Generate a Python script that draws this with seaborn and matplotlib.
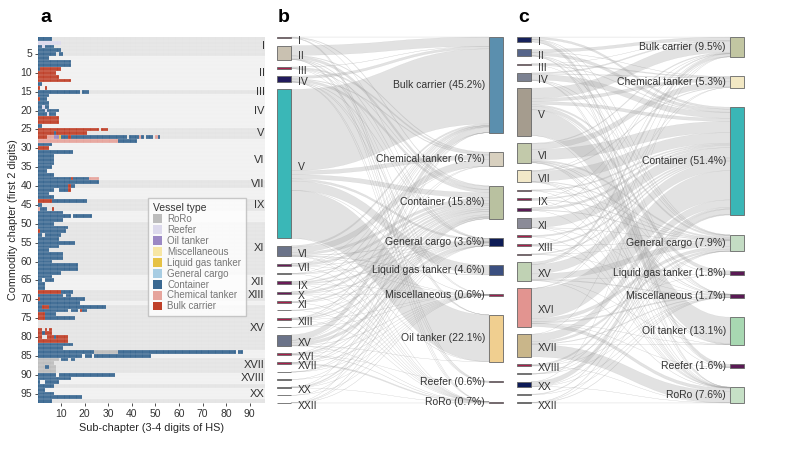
import numpy as np
import matplotlib
matplotlib.use('Agg')
import matplotlib.pyplot as plt
import seaborn as sns
from matplotlib.colors import ListedColormap
from matplotlib.patches import Patch, PathPatch, Rectangle
from matplotlib.path import Path

# ---------------- panel a data ----------------
vessel_types = ['RoRo', 'Reefer', 'Oil tanker', 'Miscellaneous', 'Liquid gas tanker',
                'General cargo', 'Container', 'Chemical tanker', 'Bulk carrier']
vessel_colors = ['#bdbdbd', '#dcd9ec', '#9b88c4', '#f7e6a4', '#e6c246',
                 '#a8cde3', '#3a6891', '#e6a49c', '#bf4029']
type_code = {'R': 0, 'F': 1, 'O': 2, 'M': 3, 'L': 4, 'G': 5, 'C': 6, 'H': 7, 'B': 8}

# one run-length string per HS chapter (1..97): letter = vessel type, '.' = empty
chapter_rows = [
    "C6", "F10", "C2 F1 C4", "C10", "C8 .1 C2",                      # 1-5
    "C5", "C14", "C14", "C1 B9", "B8",                               # 6-10
    "B9", "B14", "C2", "B1 .2 B1", "C18 .1 C3",                      # 11-15
    "C5", "B1 C3", "C5", "C2 F1 C2", "C3 F1 C5",                     # 16-20
    "C4 F1 C3", "B9", "B9", "C2", "B26 .1 B3",                       # 21-25
    "B7 C1 B13",
    "B4 H3 O2 L1 C3 B1 C24 .1 C4 H1 C1 .1 C3 .1 H1 C1",
    "H34 C8", "C6", "B5",                                            # 26-30
    "C15", "C7", "C7", "C7", "C6",                                   # 31-35
    "C4", "C7", "C14 B1 C7 H4", "C26", "C13 B1 C2",                  # 36-40
    "C7 .2 C4 B1", "C5", "C7", "B6 C15", "C2",                       # 41-45
    "H1 C3 .2 B1", "C11", "C14 .1 C8", "C11", "C7",                  # 46-50
    "C13", "B1 C11", "C2 .1 C7", "C9", "C16",                        # 51-55
    "C9", "C5", "C11", "C11", "C6",                                  # 56-60
    "C17", "C17", "C10", "C6", "C2 .1 C4",                           # 61-65
    "C3", "C3", "B10 C5", "C11 .1 C2", "B1 C19",                     # 66-70
    "C18", "C2 B3 C24", "C13 .1 C3 .1 B1 C2", "B3 C5", "B3 C13",     # 71-75
    "", "", "B2 .1 B1 .1 B1", "B2 C1 B3", "B2 .2 B3 C1 B5",          # 76-80
    "B13", "C15", "C11", "C24 R10 C50 .1 C2", "C19 .1 C3 .1 C24",    # 81-85
    "R9 .1 C3 .1 C2", "R7", "R3 C2 R3", "R8", "C8 .1 C24",           # 86-90
    "C14", "C1 .2 C6", "C7", "C3", "C7",                             # 91-95
    "C19", "C6",                                                     # 96-97
]

section_names = ['I', 'II', 'III', 'IV', 'V', 'VI', 'VII', 'VIII', 'IX', 'X', 'XI',
                 'XII', 'XIII', 'XIV', 'XV', 'XVI', 'XVII', 'XVIII', 'XIX', 'XX', 'XXI']
section_first = [1, 6, 15, 16, 25, 28, 39, 41, 44, 47, 50, 64, 68, 71, 72, 84, 86, 90, 93, 94, 97]
section_last = [5, 14, 15, 24, 27, 38, 40, 43, 46, 49, 63, 67, 70, 71, 83, 85, 89, 92, 93, 96, 97]
a_shown = ['I', 'II', 'III', 'IV', 'V', 'VI', 'VII', 'IX', 'XI', 'XII', 'XIII',
           'XV', 'XVII', 'XVIII', 'XX']

# ---------------- panels b / c data ----------------
sankey_sections = ['I', 'II', 'III', 'IV', 'V', 'VI', 'VII', 'VIII', 'IX', 'X', 'XI',
                   'XII', 'XIII', 'XIV', 'XV', 'XVI', 'XVII', 'XVIII', 'XIX', 'XX', 'XXI', 'XXII']
sankey_types = ['Bulk carrier', 'Chemical tanker', 'Container', 'General cargo',
                'Liquid gas tanker', 'Miscellaneous', 'Oil tanker', 'Reefer', 'RoRo']

b_left_share = [0.6, 6.6, 0.9, 2.8, 70.0, 5.0, 1.2, 0.3, 1.4, 1.2, 0.6,
                0.2, 1.0, 0.1, 5.3, 0.9, 0.9, 0.2, 0.05, 0.5, 0.05, 0.2]
b_right_share = [45.2, 6.7, 15.8, 3.6, 4.6, 0.6, 22.1, 0.6, 0.7]
b_flows = [
    [0.02, 0, 0.25, 0.02, 0, 0, 0, 0.3, 0.01],
    [4.6, 0.3, 1.2, 0.25, 0, 0.02, 0.02, 0.2, 0.01],
    [0.1, 0.65, 0.12, 0.02, 0, 0, 0.02, 0, 0],
    [1.2, 0.3, 1.1, 0.15, 0, 0.02, 0.02, 0.05, 0.01],
    [37.5, 1.8, 1.9, 1.0, 4.3, 0.05, 22.0, 0, 0.02],
    [0.8, 2.7, 1.1, 0.25, 0.2, 0.02, 0.05, 0, 0.02],
    [0.02, 0.05, 1.0, 0.1, 0, 0.02, 0, 0, 0.02],
    [0.02, 0, 0.25, 0.02, 0, 0, 0, 0, 0.01],
    [0.35, 0, 0.6, 0.45, 0, 0.02, 0, 0, 0.01],
    [0.2, 0, 0.8, 0.2, 0, 0.02, 0, 0, 0.01],
    [0.02, 0, 0.55, 0.03, 0, 0, 0, 0, 0.01],
    [0, 0, 0.18, 0.01, 0, 0, 0, 0, 0.01],
    [0.3, 0.01, 0.6, 0.08, 0, 0.01, 0, 0, 0.01],
    [0, 0, 0.08, 0.01, 0, 0.01, 0, 0, 0],
    [2.6, 0.02, 1.2, 1.4, 0, 0.08, 0.02, 0, 0.03],
    [0.05, 0, 0.6, 0.1, 0, 0.05, 0, 0.01, 0.1],
    [0.02, 0, 0.2, 0.05, 0, 0.05, 0, 0, 0.55],
    [0, 0, 0.18, 0.01, 0, 0.01, 0, 0, 0],
    [0, 0, 0.04, 0, 0, 0.01, 0, 0, 0],
    [0.01, 0, 0.45, 0.03, 0, 0.01, 0, 0, 0.01],
    [0, 0, 0.04, 0, 0, 0.01, 0, 0, 0],
    [0.01, 0, 0.1, 0.02, 0, 0.08, 0, 0, 0.01],
]
b_left_colors = ['#a8204c', '#c9c1b1', '#a8204c', '#211a5c', '#3ab7b7', '#6b7389', '#6a1b58',
                 '#8a8a8a', '#6a1b58', '#6a1b58', '#a8204c', '#8a8a8a', '#a8204c', '#8a8a8a',
                 '#6b7389', '#a8204c', '#a8204c', '#8a8a8a', '#8a8a8a', '#8a8a8a', '#8a8a8a', '#8a8a8a']
b_right_colors = ['#5b8fae', '#d8d0bf', '#b9c1a0', '#0e1c56', '#3b4f80',
                  '#9a2050', '#f0cf90', '#9a2050', '#9a2050']
b_shown = ['I', 'II', 'III', 'IV', 'V', 'VI', 'VII', 'IX', 'X', 'XI', 'XIII',
           'XV', 'XVI', 'XVII', 'XX', 'XXII']

c_left_share = [2.4, 3.3, 0.7, 3.8, 23.0, 9.6, 5.7, 0.6, 0.8, 1.4, 4.8,
                0.7, 0.8, 0.5, 9.0, 18.6, 11.0, 0.8, 0.3, 2.4, 0.3, 0.4]
c_right_share = [9.5, 5.3, 51.4, 7.9, 1.8, 1.7, 13.1, 1.6, 7.6]
c_flows = [
    [0.05, 0, 1.0, 0.1, 0, 0.02, 0, 1.2, 0.03],
    [1.4, 0.1, 1.4, 0.2, 0, 0.03, 0, 0.2, 0.02],
    [0.05, 0.45, 0.2, 0.02, 0, 0, 0, 0, 0],
    [0.5, 0.3, 2.7, 0.2, 0, 0.02, 0, 0.1, 0.02],
    [5.0, 1.5, 1.5, 0.8, 1.7, 0.1, 12.5, 0, 0.05],
    [0.4, 2.7, 5.4, 0.7, 0.1, 0.3, 0.3, 0.02, 0.1],
    [0.05, 0.3, 5.0, 0.3, 0, 0.05, 0.05, 0, 0.1],
    [0, 0, 0.55, 0.05, 0, 0, 0, 0, 0.02],
    [0.05, 0, 0.5, 0.3, 0, 0, 0, 0, 0.02],
    [0.1, 0, 1.1, 0.3, 0, 0, 0, 0, 0.02],
    [0, 0, 4.7, 0.1, 0, 0.02, 0, 0, 0.05],
    [0, 0, 0.68, 0, 0, 0, 0, 0, 0.02],
    [0.05, 0, 0.65, 0.1, 0, 0, 0, 0, 0.03],
    [0, 0, 0.45, 0.02, 0, 0.03, 0, 0, 0],
    [1.2, 0.05, 4.5, 2.7, 0.02, 0.4, 0.05, 0, 0.1],
    [0.1, 0.02, 14.0, 1.5, 0.02, 0.6, 0.02, 0.02, 1.5],
    [0.05, 0, 3.5, 1.0, 0, 0.3, 0.05, 0, 5.8],
    [0, 0, 0.75, 0.03, 0, 0.02, 0, 0, 0.02],
    [0, 0, 0.25, 0.03, 0, 0.02, 0, 0, 0],
    [0.02, 0, 2.3, 0.05, 0, 0.02, 0, 0, 0.03],
    [0, 0, 0.28, 0, 0, 0.02, 0, 0, 0],
    [0, 0, 0.2, 0.02, 0, 0.18, 0, 0, 0.02],
]
c_left_colors = ['#16215b', '#56658a', '#a8204c', '#7b8191', '#a59c8e', '#c2c9aa', '#f2e8c8',
                 '#a8204c', '#8a2050', '#5a1a55', '#8b8b98', '#a8204c', '#a8204c', '#a8204c',
                 '#c0d2b4', '#e29490', '#c9b68a', '#a8204c', '#8a8a8a', '#0d1b58', '#8a8a8a', '#555555']
c_right_colors = ['#c2c6a2', '#f2e8c4', '#3ab6b6', '#c4dcc4', '#5a1a55',
                  '#5a1a55', '#a8d8b2', '#5a1a55', '#c6e0c6']
c_shown = ['I', 'II', 'III', 'IV', 'V', 'VI', 'VII', 'IX', 'XI', 'XIII',
           'XV', 'XVI', 'XVII', 'XVIII', 'XX', 'XXII']

# ---------------- style ----------------
sns.set_style('white')
plt.rcParams['font.family'] = ['Liberation Sans', 'DejaVu Sans']
plt.rcParams['text.color'] = '#333333'

W, H = 789, 449
fig = plt.figure(figsize=(W / 100, H / 100), dpi=100)

# ---------------- panel a ----------------
ncol = 96
mat = np.full((len(chapter_rows), ncol), np.nan)
for r, row in enumerate(chapter_rows):
    pos = 0
    for tok in row.split():
        n = int(tok[1:])
        if tok[0] != '.':
            mat[r, pos:pos + n] = type_code[tok[0]]
        pos += n

axa = fig.add_axes([37.5 / W, (H - 403) / H, (265 - 37.5) / W, 366 / H])
for k, name in enumerate(section_names):
    shade = '#e4e4e4' if k % 2 == 0 else '#f1f1f1'
    axa.axhspan(section_first[k] - 1, section_last[k], color=shade, lw=0, zorder=0)
sns.heatmap(mat, ax=axa, cmap=ListedColormap(vessel_colors), vmin=-0.5, vmax=8.5,
            cbar=False, linewidths=0, mask=np.isnan(mat))
# thin white cell borders
for r in range(1, mat.shape[0]):
    axa.axhline(r, color='white', lw=0.25, alpha=0.6, zorder=2)
for c in range(1, ncol):
    axa.axvline(c, color='white', lw=0.25, alpha=0.35, zorder=2)
axa.set_xlim(0, 96.5)
axa.set_ylim(97, 0)
axa.set_xticks(np.arange(10, 100, 10))
axa.set_xticklabels([str(v) for v in range(10, 100, 10)], rotation=0, fontsize=7.5)
axa.set_yticks(np.arange(5, 100, 5) - 0.5)
axa.set_yticklabels([str(v) for v in range(5, 100, 5)], rotation=0, fontsize=7.5)
axa.tick_params(length=2.5, width=0.6, left=True, bottom=True, pad=1.5, colors='#333333')
axa.set_xlabel('Sub-chapter (3-4 digits of HS)', fontsize=7.8, labelpad=3)
axa.set_ylabel('Commodity chapter (first 2 digits)', fontsize=7.8, labelpad=2)
for k, name in enumerate(section_names):
    if name in a_shown:
        axa.text(96.3, (section_first[k] - 1 + section_last[k]) / 2, name, ha='right',
                 va='center', fontsize=8, color='#333333', zorder=5)

handles = [Patch(facecolor=c, edgecolor='none') for c in vessel_colors]
leg = fig.legend(handles, vessel_types, loc='upper left', bbox_to_anchor=(143 / W, 1 - 193 / H),
                 fontsize=7, title='Vessel type', title_fontsize=7.5, frameon=True,
                 fancybox=False, edgecolor='#bbbbbb', handlelength=1.0, handleheight=1.0,
                 labelspacing=0.1, borderpad=0.5, handletextpad=0.5, labelcolor='#777777')
leg._legend_box.align = 'left'

# ---------------- panels b and c (sankey) ----------------
ov = fig.add_axes([0, 0, 1, 1])
ov.set_xlim(0, W)
ov.set_ylim(H, 0)
ov.axis('off')
ov.patch.set_alpha(0)


def stack(vals, top, bottom, gap):
    vals = np.asarray(vals, float)
    scale = (bottom - top - gap * (len(vals) - 1)) / vals.sum()
    h = vals * scale
    y0 = top + np.concatenate([[0], np.cumsum(h[:-1] + gap)])
    return y0, h


def sankey(left_vals, right_vals, flows, xl, xr, bw, lcol, rcol, shown, gl, gr):
    F = np.asarray(flows, float)
    ly, lh = stack(left_vals, 37, 403, gl)
    ry, rh = stack(right_vals, 37, 403, gr)
    rows = F.sum(axis=1)
    cols = F.sum(axis=0)
    lcur = ly.copy()
    # right-side offsets: incoming ordered by source
    rin = np.zeros_like(F)
    for j in range(F.shape[1]):
        acc = ry[j]
        for i in range(F.shape[0]):
            rin[i, j] = acc
            acc += F[i, j] / cols[j] * rh[j] if cols[j] > 0 else 0
    x0, x1 = xl + bw, xr
    xm = (x0 + x1) / 2
    for i in range(F.shape[0]):
        for j in range(F.shape[1]):
            if F[i, j] <= 0:
                continue
            wl = F[i, j] / rows[i] * lh[i]
            wr = F[i, j] / cols[j] * rh[j]
            a0, a1 = lcur[i], lcur[i] + wl
            b0, b1 = rin[i, j], rin[i, j] + wr
            lcur[i] += wl
            verts = [(x0, a0), (xm, a0), (xm, b0), (x1, b0), (x1, b1),
                     (xm, b1), (xm, a1), (x0, a1), (x0, a0)]
            codes = [Path.MOVETO, Path.CURVE4, Path.CURVE4, Path.CURVE4, Path.LINETO,
                     Path.CURVE4, Path.CURVE4, Path.CURVE4, Path.CLOSEPOLY]
            ov.add_patch(PathPatch(Path(verts, codes), facecolor='#a0a0a0', edgecolor='#a0a0a0',
                                   lw=0.2, alpha=0.3, zorder=1))
    for i, name in enumerate(sankey_sections):
        ov.add_patch(Rectangle((xl, ly[i]), bw, lh[i], facecolor=lcol[i],
                               edgecolor='#666666', lw=0.6, zorder=3))
        if name in shown:
            ov.text(xl + bw + 7, ly[i] + lh[i] / 2 + 3, name, ha='left', va='center',
                    fontsize=7.5, color='#333333', zorder=4)
    for j, name in enumerate(sankey_types):
        ov.add_patch(Rectangle((xr, ry[j]), bw, rh[j], facecolor=rcol[j],
                               edgecolor='#666666', lw=0.6, zorder=3))
        ov.text(xr - 4, ry[j] + rh[j] / 2, f'{name} ({right_vals[j]:.1f}%)', ha='right',
                va='center', fontsize=7.5, color='#333333', zorder=4)


sankey(b_left_share, b_right_share, b_flows, 277, 489, 14,
       b_left_colors, b_right_colors, b_shown, 7.3, 19.3)
sankey(c_left_share, c_right_share, c_flows, 517, 730, 14,
       c_left_colors, c_right_colors, c_shown, 7.5, 19.5)

for lab, x in [('a', 40), ('b', 278), ('c', 518)]:
    fig.text(x / W, 1 - 18 / H, lab, fontsize=14, fontweight='bold', va='center',
             ha='left', color='black')

fig.savefig('out.png', dpi=100)
